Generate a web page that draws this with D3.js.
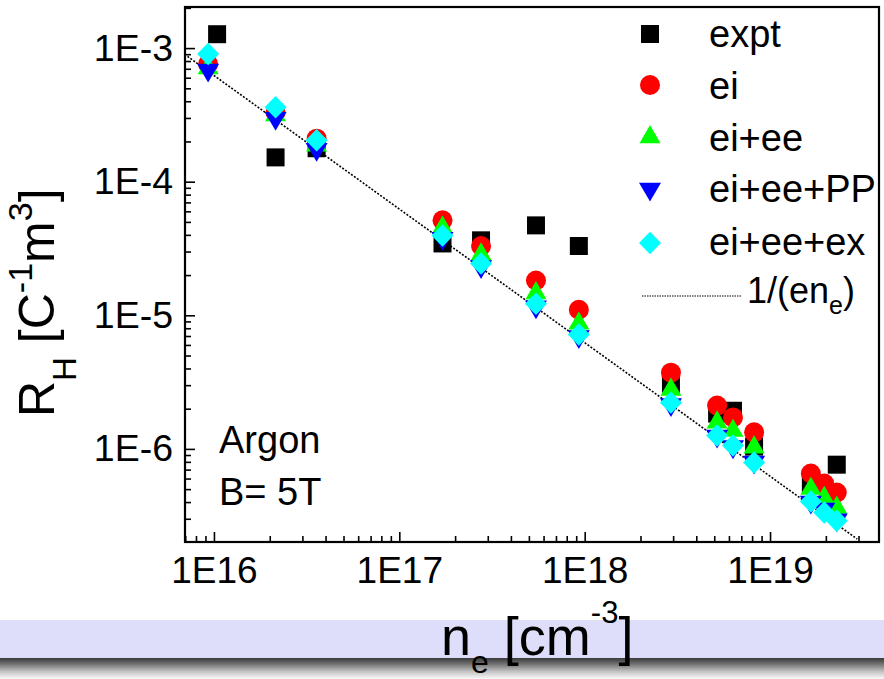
<!DOCTYPE html>
<html><head><meta charset="utf-8">
<script src="https://cdn.jsdelivr.net/npm/d3@7"></script>
<style>
body{margin:0;background:#fff}
svg{display:block}
text{font-family:"Liberation Sans",Arial,Helvetica,sans-serif;fill:#000}
</style>
</head><body>
<svg id="c" width="884" height="679"></svg>
<script>
// ---- data (n_e in cm^-3, R_H in C^-1 m^3) ----
const nExpt   = [1.04e16, 2.15e16, 3.58e16, 1.71e17, 2.76e17, 5.46e17, 9.3e17, 2.92e18, 5.18e18, 6.31e18, 8.2e18, 1.66e19, 2.29e19];
const rExpt   = [1.27e-3, 1.52e-4, 1.78e-4, 3.45e-5, 3.64e-5, 4.71e-5, 3.3e-5, 3.08e-6, 1.84e-6, 1.93e-6, 1.04e-6, 5.48e-7, 7.62e-7];
const nCalc   = [9.3e15, 2.15e16, 3.58e16, 1.71e17, 2.76e17, 5.46e17, 9.3e17, 2.92e18, 5.18e18, 6.31e18, 8.2e18, 1.66e19, 1.96e19, 2.29e19];
const rEi     = [7.6e-4, 3.31e-4, 2.1e-4, 5.14e-5, 3.3e-5, 1.82e-5, 1.1e-5, 3.72e-6, 2.11e-6, 1.72e-6, 1.33e-6, 6.55e-7, 5.5e-7, 4.72e-7];
const rEiEe   = [7.08e-4, 3.15e-4, 1.87e-4, 4.55e-5, 2.86e-5, 1.47e-5, 8.7e-6, 2.78e-6, 1.58e-6, 1.37e-6, 1.03e-6, 5.04e-7, 4.31e-7, 3.64e-7];
const rEiEePP = [6.84e-4, 2.98e-4, 1.75e-4, 3.77e-5, 2.32e-5, 1.16e-5, 6.93e-6, 2.15e-6, 1.25e-6, 1.04e-6, 7.98e-7, 4.0e-7, 3.55e-7, 2.95e-7];
const rEiEeEx = [9.02e-4, 3.61e-4, 2.04e-4, 3.96e-5, 2.44e-5, 1.22e-5, 7.18e-6, 2.22e-6, 1.26e-6, 1.06e-6, 7.92e-7, 4.04e-7, 3.34e-7, 2.9e-7];
// reference line 1/(e n_e), endpoints
const lineN = [7.2e15, 2.95e19];
const lineR = [8.67e-4, 2.116e-7];
// axes
const xMajor = [1e16, 1e17, 1e18, 1e19];
const xLabels = ["1E16", "1E17", "1E18", "1E19"];
const yMajor = [1e-3, 1e-4, 1e-5, 1e-6];
const yLabels = ["1E-3", "1E-4", "1E-5", "1E-6"];
const seriesNames = ["expt", "ei", "ei+ee", "ei+ee+PP", "ei+ee+ex"];
const seriesColors = ["#000000", "#ff0000", "#00ff00", "#0000ff", "#00ffff"];

// ---- layout ----
const L = 185, R = 879, T = 7, B = 542;
const svg = d3.select("#c");

// bottom decorative band
const defs = svg.append("defs");
const g1 = defs.append("linearGradient").attr("id","shade").attr("x1",0).attr("y1",0).attr("x2",0).attr("y2",1);
g1.append("stop").attr("offset","0").attr("stop-color","#3a3a3a");
g1.append("stop").attr("offset","0.25").attr("stop-color","#6a6a6a");
g1.append("stop").attr("offset","0.65").attr("stop-color","#c4c4c4");
g1.append("stop").attr("offset","1").attr("stop-color","#fafafa");
svg.append("rect").attr("x",0).attr("y",620).attr("width",884).attr("height",38).attr("fill","#dedefa");
svg.append("rect").attr("x",0).attr("y",658).attr("width",884).attr("height",21).attr("fill","url(#shade)");

const x = d3.scaleLog().domain([6.98e15, 3.87e19]).range([L, R]);
const y = d3.scaleLog().domain([2.03e-3, 2.01e-7]).range([T, B]);

// minor ticks
const xMinor = x.ticks().filter(v => !xMajor.some(m => Math.abs(m - v) / m < 1e-6));
const yMinor = y.ticks().filter(v => !yMajor.some(m => Math.abs(m - v) / m < 1e-6));

const xaxMin = svg.append("g").attr("transform",`translate(0,${B})`)
  .call(d3.axisBottom(x).tickValues(xMinor).tickSize(-6).tickFormat(""));
const xaxMaj = svg.append("g").attr("transform",`translate(0,${B})`)
  .call(d3.axisBottom(x).tickValues(xMajor).tickSize(-10).tickPadding(15)
        .tickFormat((d,i) => xLabels[i]));
const yaxMin = svg.append("g").attr("transform",`translate(${L},0)`)
  .call(d3.axisLeft(y).tickValues(yMinor).tickSize(-6).tickFormat(""));
const yaxMaj = svg.append("g").attr("transform",`translate(${L},0)`)
  .call(d3.axisLeft(y).tickValues(yMajor).tickSize(-10).tickPadding(12)
        .tickFormat((d,i) => yLabels[i]));
[xaxMin, xaxMaj, yaxMin, yaxMaj].forEach(g => {
  g.select(".domain").remove();
  g.selectAll(".tick line").attr("stroke","#000").attr("stroke-width",1.6);
  g.selectAll("text").attr("font-size",37).attr("font-family","'Liberation Sans',Arial,sans-serif").attr("fill","#000");
});
yaxMaj.selectAll("text").attr("font-size",37.5);

// frame
svg.append("rect").attr("x",L).attr("y",T).attr("width",R-L).attr("height",B-T)
  .attr("fill","none").attr("stroke","#000").attr("stroke-width",2.2);

// reference line
svg.append("path")
  .attr("d", d3.line().x(d => x(d[0])).y(d => y(d[1]))(lineN.map((n,i)=>[n,lineR[i]])))
  .attr("stroke","#000").attr("stroke-width",1.6).attr("stroke-dasharray","2,1.6").attr("fill","none");

// marker shapes
const shapes = {
  square: "M-9,-9H9V9H-9Z",
  circle: "M-10,0A10,10 0 1,0 10,0A10,10 0 1,0 -10,0Z",
  up:     "M0,-12L10.5,6.2L-10.5,6.2Z",
  down:   "M0,12.5L11,-6.3L-11,-6.3Z",
  diamond:"M0,-11.2L11,0L0,11.2L-11,0Z"
};
const shapeKeys = ["square","circle","up","down","diamond"];
const allSeries = [
  {n: nExpt, r: rExpt},
  {n: nCalc, r: rEi},
  {n: nCalc, r: rEiEe},
  {n: nCalc, r: rEiEePP},
  {n: nCalc, r: rEiEeEx}
];
const plot = svg.append("g");
allSeries.forEach((s, k) => {
  plot.append("g").selectAll("path").data(s.n.map((n,i)=>[n, s.r[i]])).join("path")
    .attr("d", shapes[shapeKeys[k]])
    .attr("transform", d => `translate(${x(d[0])},${y(d[1])})`)
    .attr("fill", seriesColors[k]);
});

// legend
const legMarkY = [34, 85, 137, 189, 243];
const legTextY = [47, 99, 151, 202, 255];
const legFont = 38;
seriesNames.forEach((name, k) => {
  svg.append("path").attr("d", shapes[shapeKeys[k]])
    .attr("transform", `translate(650,${legMarkY[k]})`).attr("fill", seriesColors[k]);
  svg.append("text").attr("x",709).attr("y",legTextY[k]).attr("font-size",legFont).text(name);
});
svg.append("line").attr("x1",642).attr("x2",742).attr("y1",296).attr("y2",296)
  .attr("stroke","#000").attr("stroke-width",1.2).attr("stroke-dasharray","1.5,1");
const lt = svg.append("text").attr("x",747).attr("y",303).attr("font-size",36);
lt.append("tspan").text("1/(en");
lt.append("tspan").attr("font-size",25).attr("dy",11).text("e");
lt.append("tspan").attr("dy",-11).text(")");

// annotations
svg.append("text").attr("x",219).attr("y",453).attr("font-size",38).text("Argon");
svg.append("text").attr("x",219).attr("y",505).attr("font-size",38).text("B= 5T");

// y title
const yt = svg.append("text").attr("transform","translate(54,417) rotate(-90)").attr("font-size",50);
yt.append("tspan").text("R");
yt.append("tspan").attr("font-size",33).attr("dy",22).text("H");
yt.append("tspan").attr("dy",-22).text(" [C");
yt.append("tspan").attr("font-size",34).attr("dy",-22).text("-1");
yt.append("tspan").attr("dy",22).text("m");
yt.append("tspan").attr("font-size",34).attr("dy",-22).text("3");
yt.append("tspan").attr("dy",22).text("]");

// x title
const xt = svg.append("text").attr("x",441).attr("y",655).attr("font-size",54);
xt.append("tspan").text("n");
xt.append("tspan").attr("font-size",32).attr("dy",18).text("e");
xt.append("tspan").attr("dy",-18).text(" [cm");
xt.append("tspan").attr("font-size",31).attr("dy",-32).text("-3");
xt.append("tspan").attr("dy",32).text("]");
</script>
</body></html>
